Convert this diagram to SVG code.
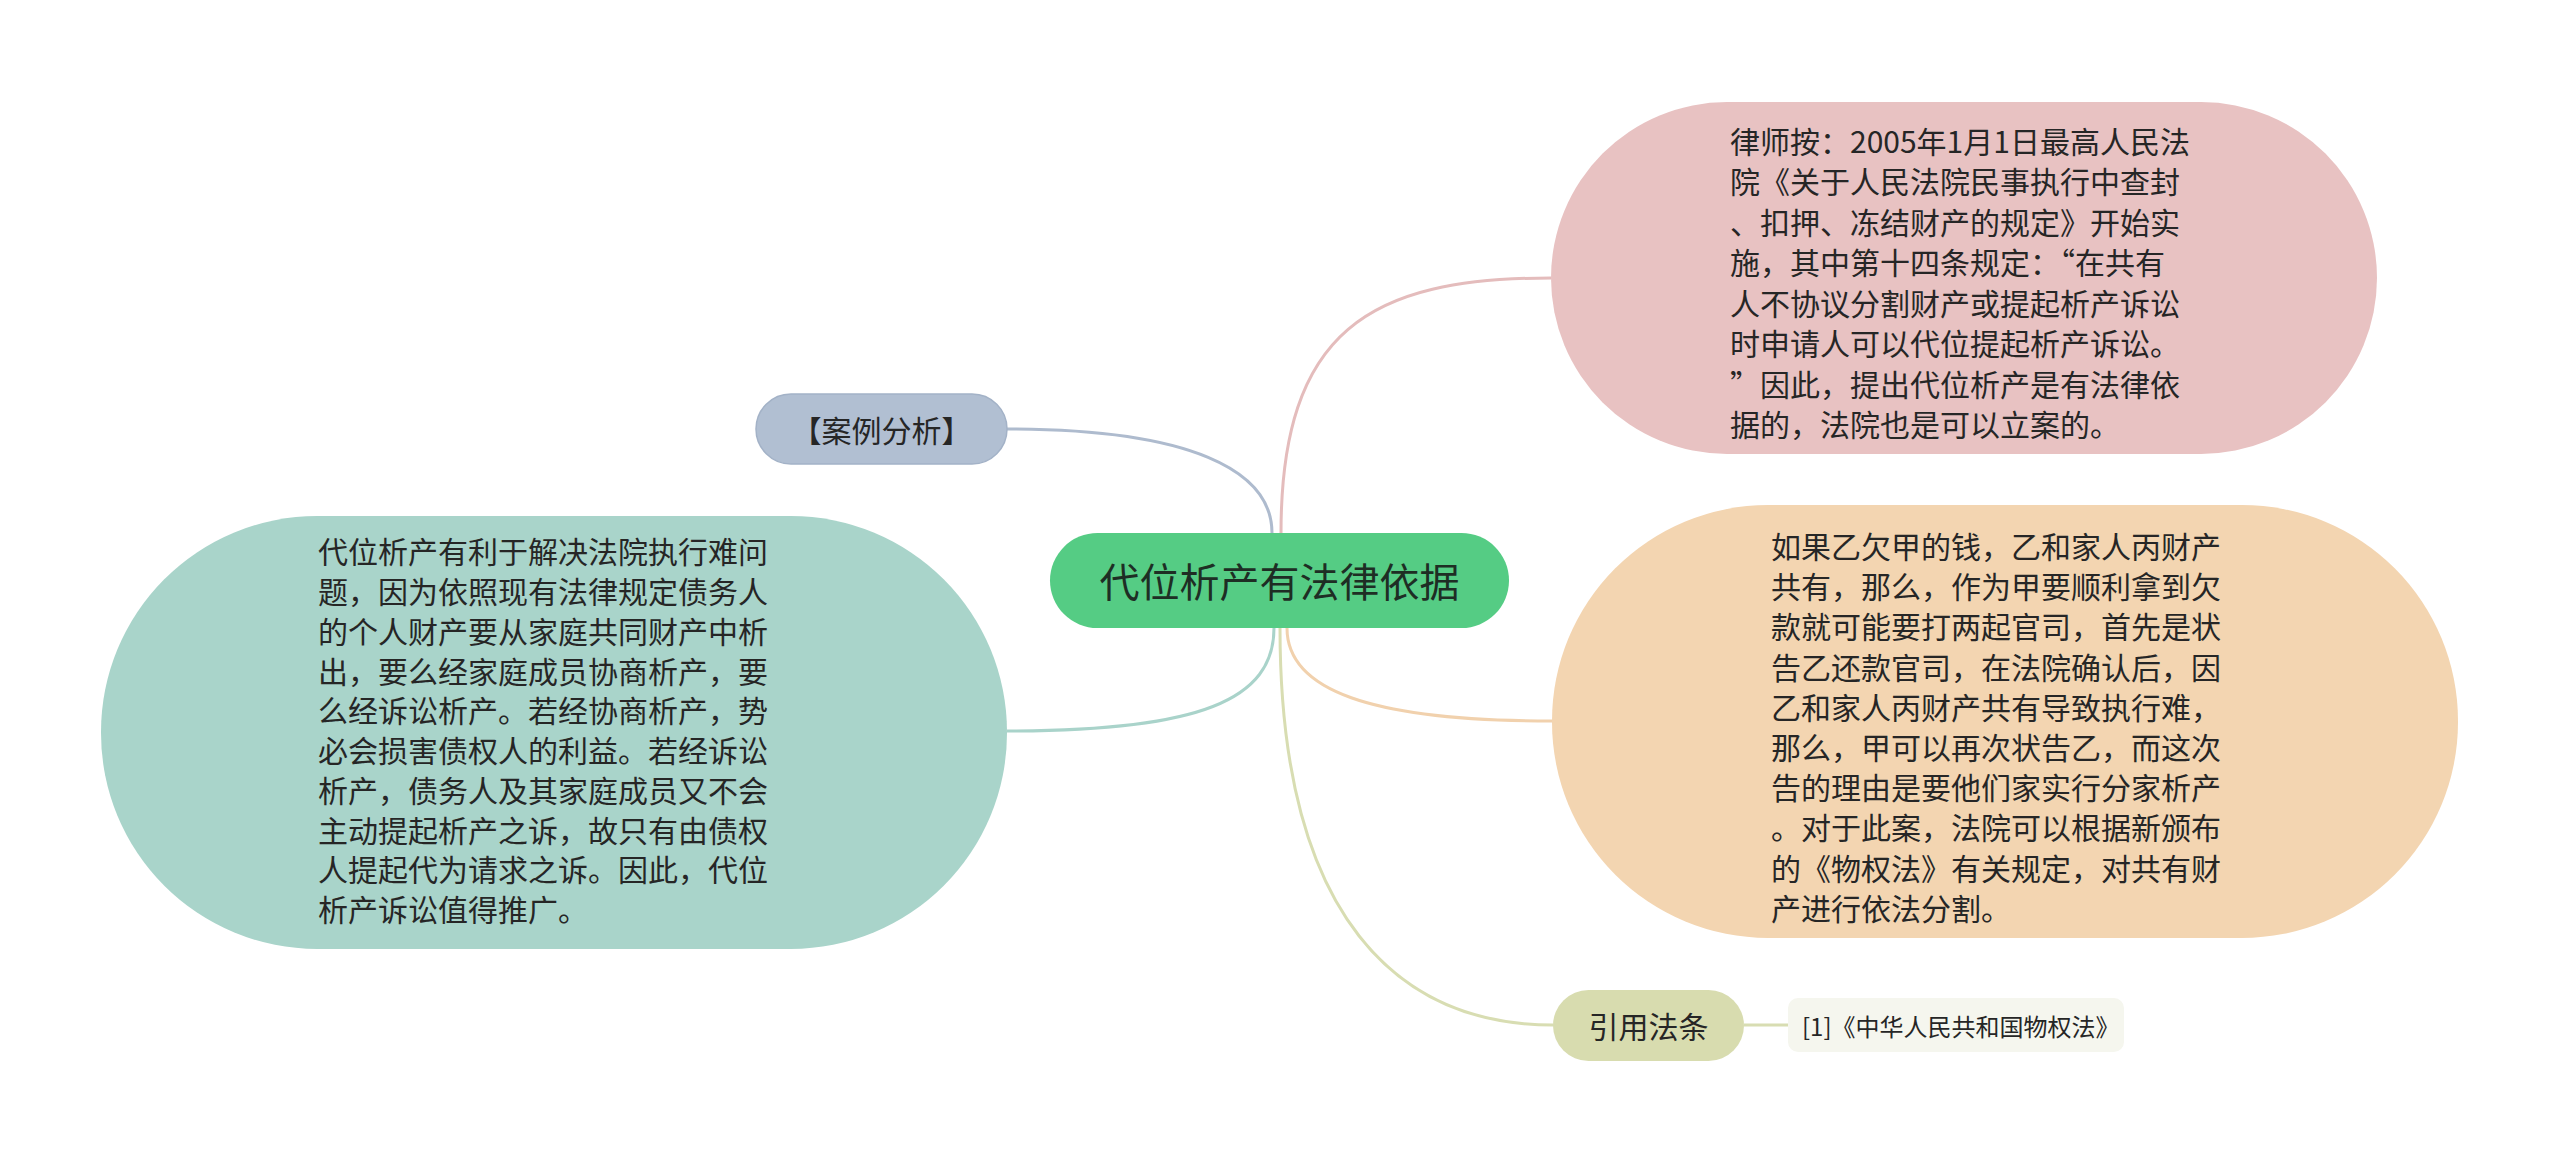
<svg xmlns="http://www.w3.org/2000/svg" width="2560" height="1162" viewBox="0 0 2560 1162">
<style>
text{font-family:"Noto Sans CJK SC","Noto Sans",sans-serif;fill:#262626;dominant-baseline:central}
.body{font-size:30px}
.link{fill:none;stroke-width:3}
</style>
<rect width="2560" height="1162" fill="#ffffff"/>
<g id="connectors">
<path class="link" stroke="#aebbce" d="M1007,429 C1190,429 1272,470 1272,533"/>
<path class="link" stroke="#e4bcbc" d="M1281,533 C1281,330 1370,278 1551,278"/>
<path class="link" stroke="#a9d3ca" d="M1274,628 C1274,700 1200,731 1007,731"/>
<path class="link" stroke="#f1d1ad" d="M1287,628 C1287,690 1370,721 1552,721"/>
<path class="link" stroke="#d8ddb2" d="M1280,628 C1280,920 1400,1025 1553,1025"/>
<path class="link" stroke="#d8ddb2" d="M1744,1025 L1788,1025"/>
</g>
<g id="center">
<rect x="1050" y="533" width="459" height="95" rx="47.5" fill="#55cc84"/>
<text x="1279.5" y="580" font-size="40" text-anchor="middle" style="fill:#1e2e24">代位析产有法律依据</text>
</g>
<g id="case">
<rect x="756" y="394" width="251" height="70" rx="35" fill="#b1bfd2" stroke="#a3b2c7" stroke-width="1.5"/>
<text x="881.5" y="429" font-size="30" text-anchor="middle">【案例分析】</text>
</g>
<g id="teal">
<rect x="101" y="516" width="906" height="433" rx="216" fill="#a9d4ca"/>
<text class="body" x="318" y="550">代位析产有利于解决法院执行难问</text>
<text class="body" x="318" y="590">题，因为依照现有法律规定债务人</text>
<text class="body" x="318" y="630">的个人财产要从家庭共同财产中析</text>
<text class="body" x="318" y="670">出，要么经家庭成员协商析产，要</text>
<text class="body" x="318" y="709">么经诉讼析产。若经协商析产，势</text>
<text class="body" x="318" y="749">必会损害债权人的利益。若经诉讼</text>
<text class="body" x="318" y="789">析产，债务人及其家庭成员又不会</text>
<text class="body" x="318" y="829">主动提起析产之诉，故只有由债权</text>
<text class="body" x="318" y="868">人提起代为请求之诉。因此，代位</text>
<text class="body" x="318" y="908">析产诉讼值得推广。</text>
</g>
<g id="pink">
<rect x="1551" y="102" width="826" height="352" rx="176" fill="#e8c2c2"/>
<text class="body" x="1730" y="140">律师按：2005年1月1日最高人民法</text>
<text class="body" x="1730" y="180">院《关于人民法院民事执行中查封</text>
<text class="body" x="1730" y="221">、扣押、冻结财产的规定》开始实</text>
<text class="body" x="1730" y="261">施，其中第十四条规定：“在共有</text>
<text class="body" x="1730" y="302">人不协议分割财产或提起析产诉讼</text>
<text class="body" x="1730" y="342">时申请人可以代位提起析产诉讼。</text>
<text class="body" x="1730" y="383">”因此，提出代位析产是有法律依</text>
<text class="body" x="1730" y="423">据的，法院也是可以立案的。</text>
</g>
<g id="orange">
<rect x="1552" y="505" width="906" height="433" rx="216" fill="#f3d5b1"/>
<text class="body" x="1771" y="545">如果乙欠甲的钱，乙和家人丙财产</text>
<text class="body" x="1771" y="585">共有，那么，作为甲要顺利拿到欠</text>
<text class="body" x="1771" y="625">款就可能要打两起官司，首先是状</text>
<text class="body" x="1771" y="666">告乙还款官司，在法院确认后，因</text>
<text class="body" x="1771" y="706">乙和家人丙财产共有导致执行难，</text>
<text class="body" x="1771" y="746">那么，甲可以再次状告乙，而这次</text>
<text class="body" x="1771" y="786">告的理由是要他们家实行分家析产</text>
<text class="body" x="1771" y="826">。对于此案，法院可以根据新颁布</text>
<text class="body" x="1771" y="867">的《物权法》有关规定，对共有财</text>
<text class="body" x="1771" y="907">产进行依法分割。</text>
</g>
<g id="law">
<rect x="1553" y="990" width="191" height="71" rx="35.5" fill="#d8dcaf"/>
<text x="1648.5" y="1025" font-size="30" text-anchor="middle">引用法条</text>
</g>
<g id="law-leaf">
<rect x="1788" y="998" width="336" height="54" rx="10" fill="#f5f6ee"/>
<text x="1802" y="1025" font-size="24">[1]《中华人民共和国物权法》</text>
</g>
</svg>
